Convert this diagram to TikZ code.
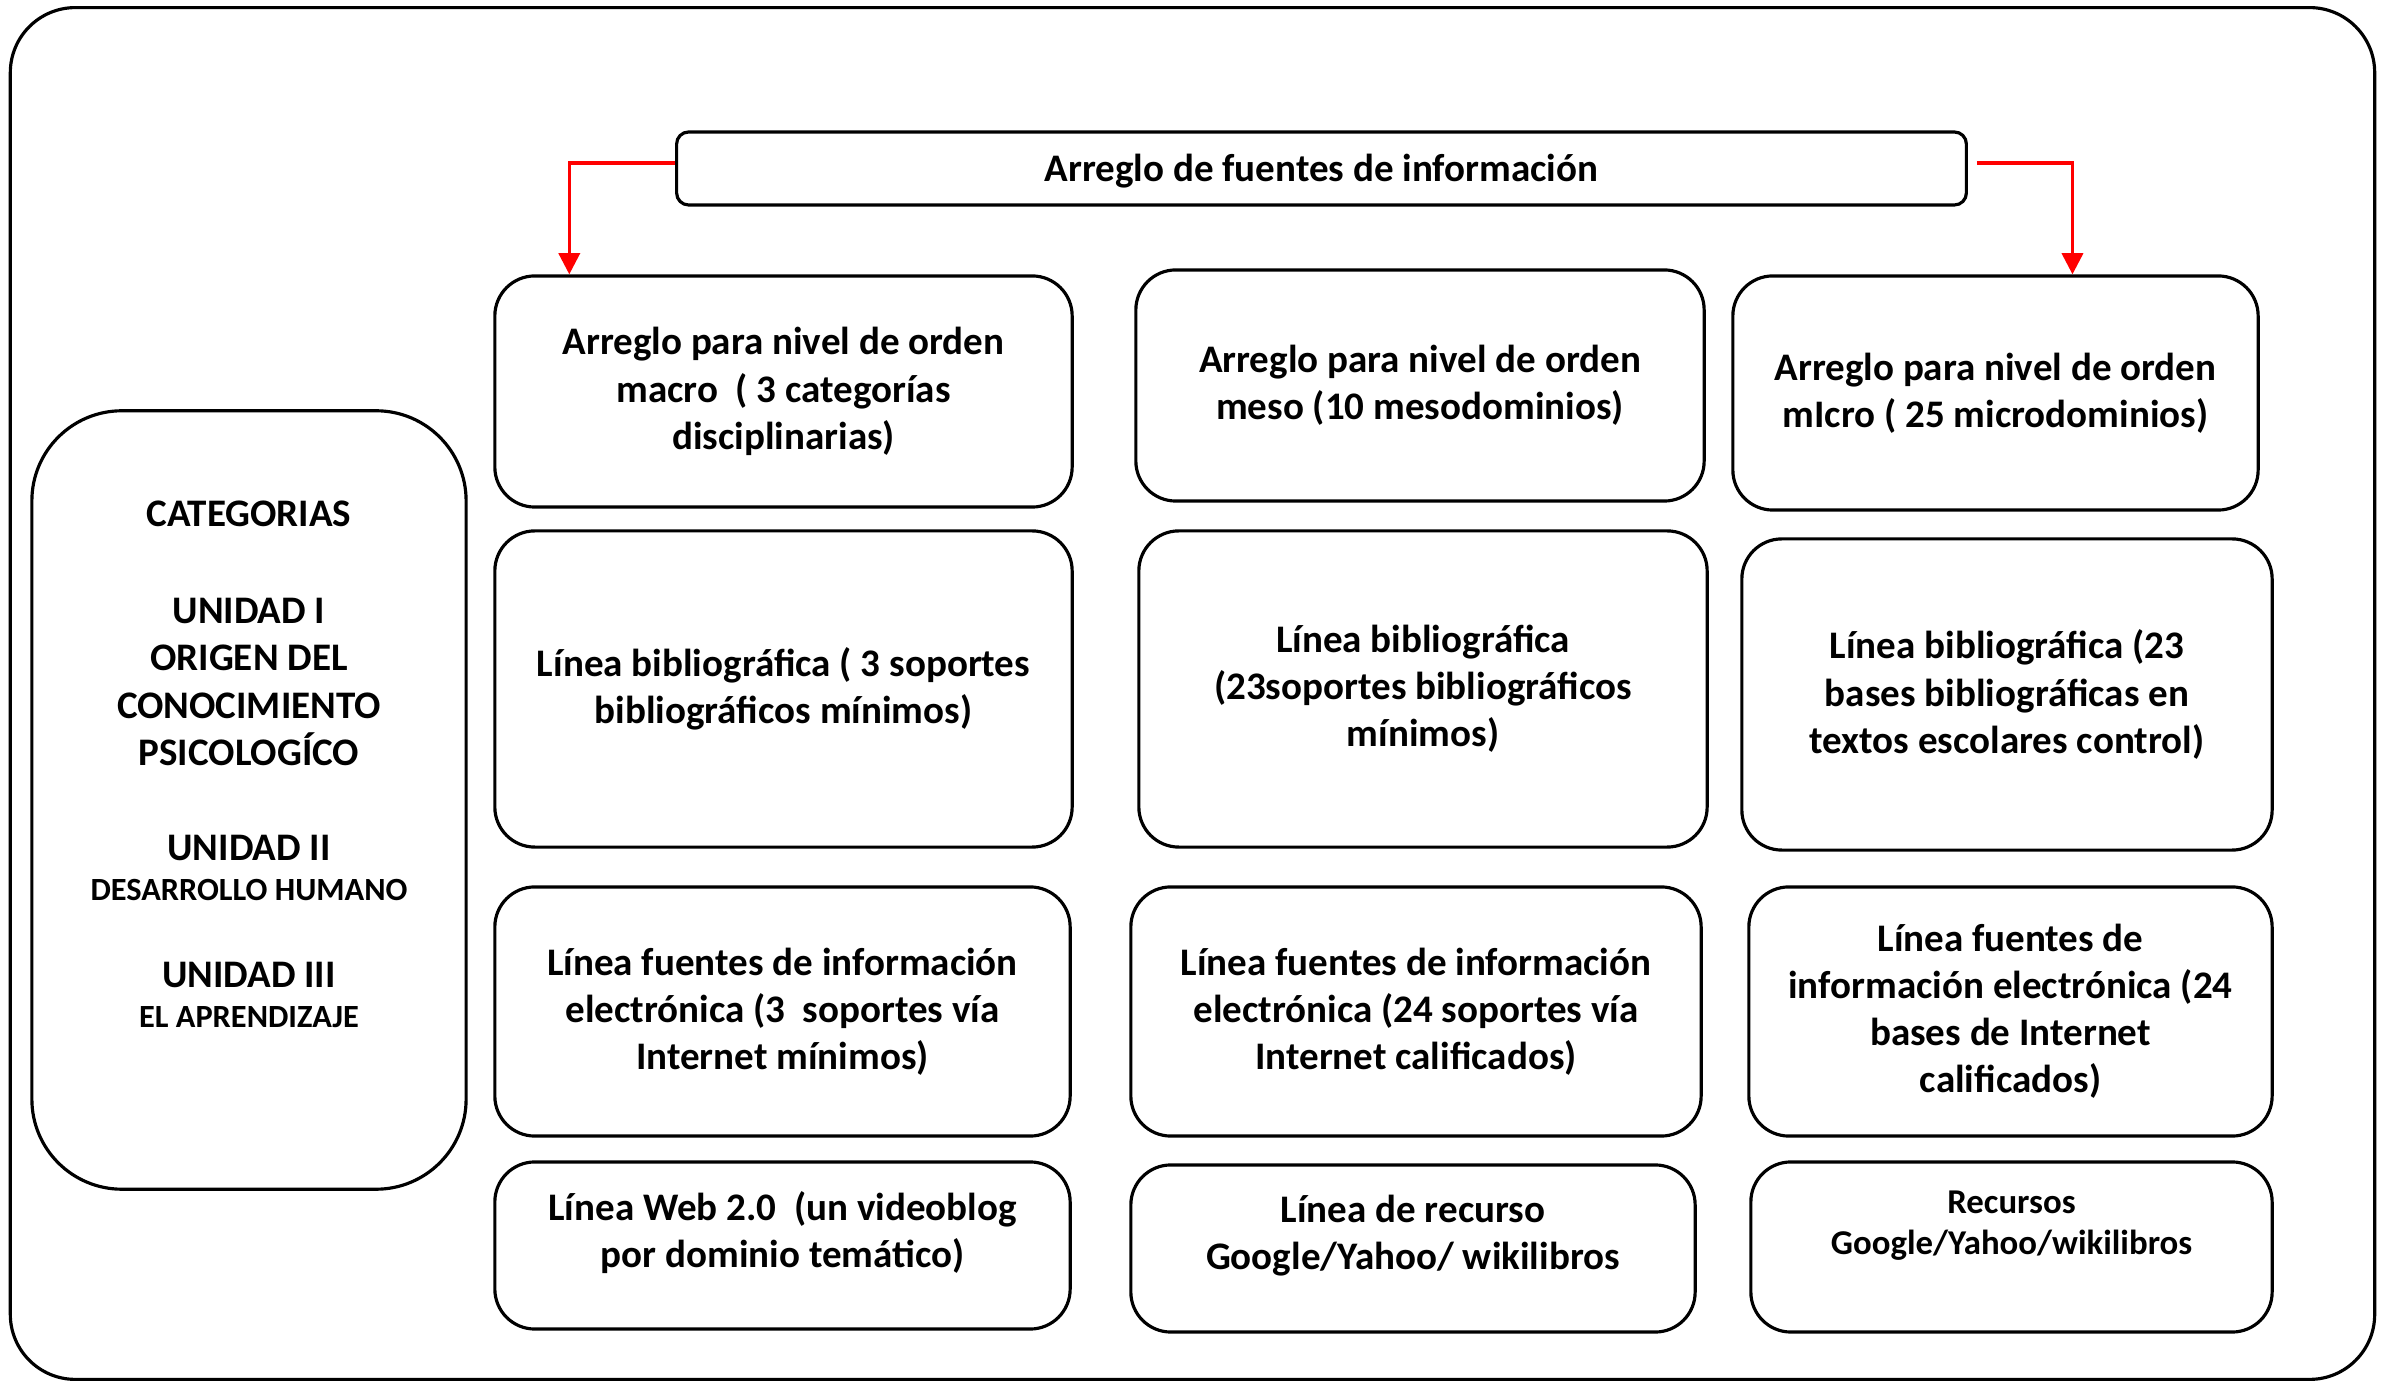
\documentclass[tikz,border=0pt]{standalone}
\usepackage{fontspec}
\setmainfont{Carlito}
\usetikzlibrary{arrows.meta, positioning}

\begin{document}
\begin{tikzpicture}[
        x=0.01cm, y=-0.01cm,
        cell/.style={rectangle, draw, rounded corners=0.4cm, line width=0.9pt, align=center, inner sep=2pt, font=\bfseries\fontsize{11.1}{13.4}\selectfont},
        small/.style={font=\bfseries\fontsize{9.9}{11.8}\selectfont},
        arrow/.style={-{Triangle[length=6pt, width=6pt]}, red, line width=0.9pt}
    ]
        \useasboundingbox (0,0) rectangle (2381,1383);
        \node[draw, line width=0.9pt, rounded corners=0.65cm, minimum width=23.63cm, minimum height=13.71cm] (frame) at (1192.5,693.5) {};

        \node[cell, rounded corners=0.12cm, minimum width=12.89cm, minimum height=0.73cm, text depth=0.5pt] (top) at (1321.5,168.5) {Arreglo de fuentes de información};

        % categorias
        \node[cell, rounded corners=0.9cm, minimum width=4.34cm, minimum height=7.78cm] (cat) at (249,800)
            {CATEGORIAS\\[0.5cm]
             UNIDAD I\\ ORIGEN DEL\\ CONOCIMIENTO\\ PSICOLOGÍCO\\[0.48cm]
             UNIDAD II\\[-0.07cm] {\fontsize{9.2}{11}\selectfont DESARROLLO HUMANO}\\[0.4cm]
             UNIDAD III\\[-0.07cm] {\fontsize{9.2}{11}\selectfont EL APRENDIZAJE}\\[0.24cm]\mbox{}};

        % orden macro / meso / micro
        \node[cell, minimum width=5.77cm, minimum height=2.31cm] (macro) at (783.5,391.5) {Arreglo para nivel de orden\\ macro \ ( 3 categorías\\ disciplinarias)};
        \node[cell, minimum width=5.68cm, minimum height=2.31cm] (meso) at (1420,385.5) {Arreglo para nivel de orden\\ meso (10 mesodominios)};
        \node[cell, minimum width=5.25cm, minimum height=2.34cm] (micro) at (1995.5,393) {Arreglo para nivel de orden\\ mIcro ( 25 microdominios)};

        % linea bibliografica
        \node[cell, minimum width=5.77cm, minimum height=3.16cm] (biblio1) at (783.5,689) {Línea bibliográfica ( 3 soportes\\ bibliográficos mínimos)};
        \node[cell, minimum width=5.68cm, minimum height=3.16cm] (biblio2) at (1423,689) {Línea bibliográfica\\ (23soportes bibliográficos\\ mínimos)};
        \node[cell, minimum width=5.30cm, minimum height=3.11cm] (biblio3) at (2007,694.5) {Línea bibliográfica (23\\ bases bibliográficas en\\ textos escolares control)};

        % fuentes electronicas
        \node[cell, minimum width=5.75cm, minimum height=2.49cm] (elec1) at (782.5,1011.5) {Línea fuentes de información\\ electrónica (3 \ soportes vía\\ Internet mínimos)};
        \node[cell, minimum width=5.70cm, minimum height=2.49cm] (elec2) at (1416,1011.5) {Línea fuentes de información\\ electrónica (24 soportes vía\\ Internet calificados)};
        \node[cell, minimum width=5.23cm, minimum height=2.49cm] (elec3) at (2010.5,1011.5) {Línea fuentes de\\ información electrónica (24\\ bases de Internet\\ calificados)};

        % web / recursos
        \node[cell, minimum width=5.75cm, minimum height=1.67cm] (web1) at (782.5,1245.5) {Línea Web 2.0 \ (un videoblog\\ por dominio temático)\\[-4.3pt]\mbox{}};
        \node[cell, minimum width=5.64cm, minimum height=1.67cm] (web2) at (1413,1248.5) {Línea de recurso\\ Google/Yahoo/ wikilibros\\[-4.3pt]\mbox{}};
        \node[cell, small, minimum width=5.21cm, minimum height=1.70cm] (web3) at (2011.5,1247) {Recursos\\ Google/Yahoo/wikilibros\\[2pt]\mbox{}};

        \draw[arrow] ([yshift=0.055cm]top.west) -| ([xshift=0.76cm]macro.north west);
        \draw[arrow] ([xshift=0.09cm, yshift=0.055cm]top.east) -| ([xshift=3.41cm]micro.north west);
    \end{tikzpicture}
\end{document}
